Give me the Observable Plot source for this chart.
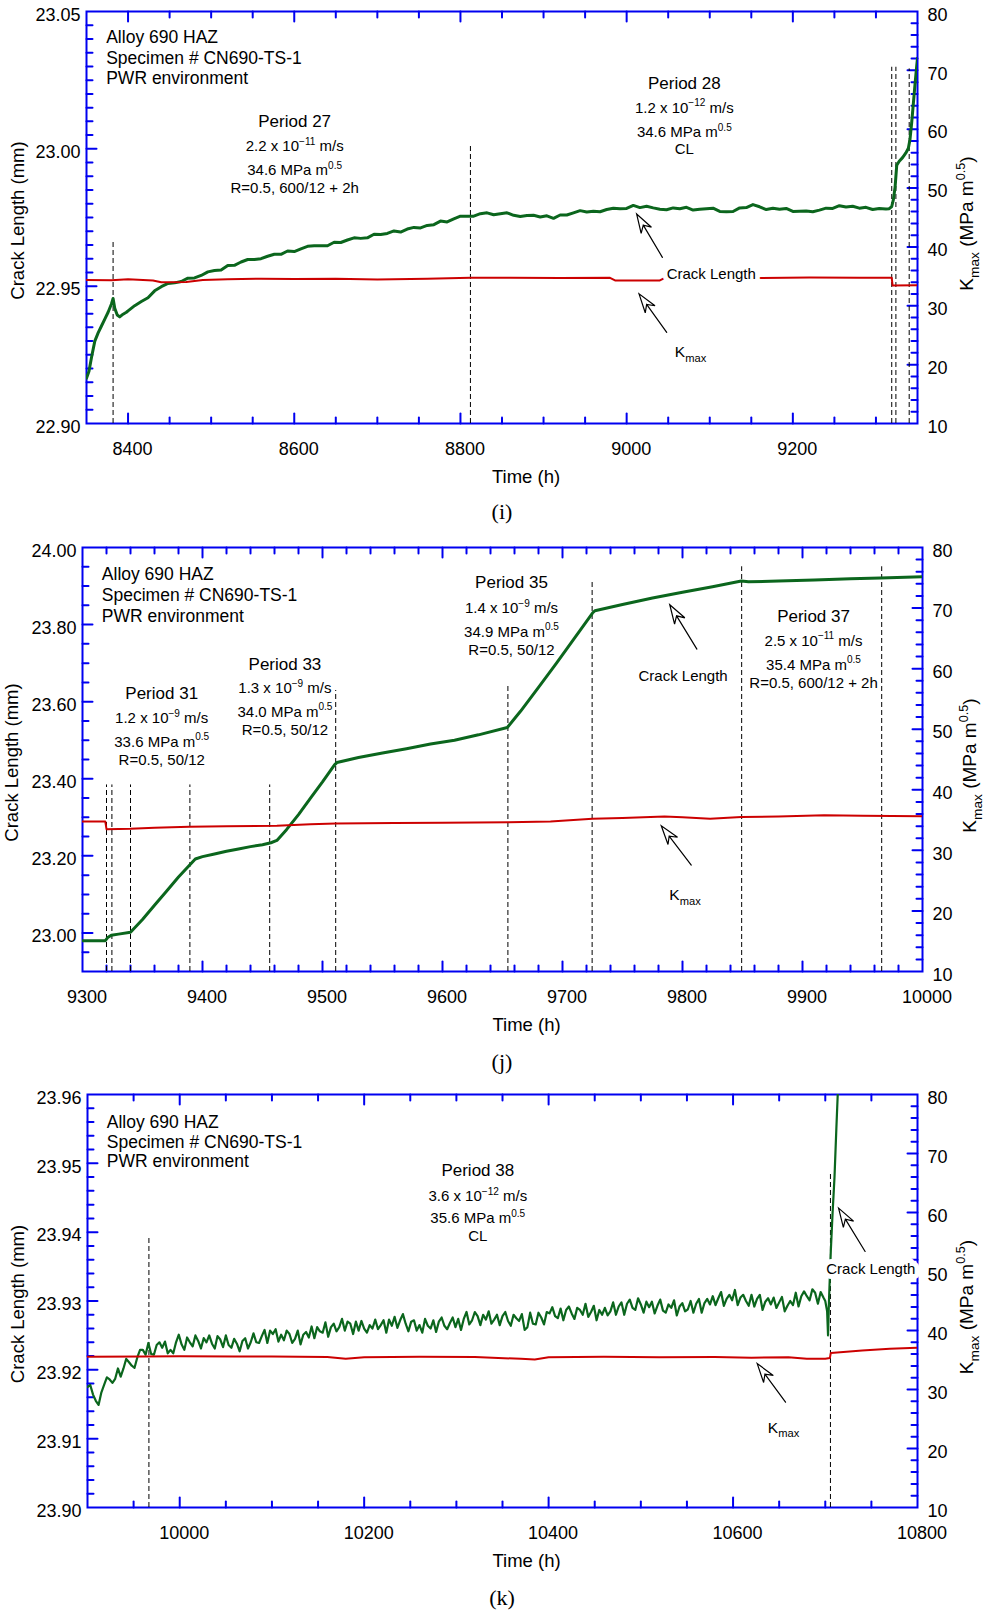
<!DOCTYPE html>
<html><head><meta charset="utf-8">
<script src="https://cdn.jsdelivr.net/npm/d3@7"></script>
<script src="https://cdn.jsdelivr.net/npm/@observablehq/plot@0.6"></script>
<style>
html, body { margin: 0; padding: 0; background: #fff; }
#page { position: relative; width: 984px; height: 1610px; overflow: hidden; background: #fff; }
.panel { position: absolute; left: 0; width: 984px; }
.panel svg { display: block; }
.cap { position: absolute; width: 100px; text-align: center; font-family: "Liberation Serif", "Times New Roman", serif; font-size: 22px; line-height: 22px; color: #000; }
</style></head>
<body>
<div id="page">
  <div class="panel" id="pi" style="top:0px"></div>
  <div class="cap" style="left:452px; top:501px">(i)</div>
  <div class="panel" id="pj" style="top:530px"></div>
  <div class="cap" style="left:452px; top:1051px">(j)</div>
  <div class="panel" id="pk" style="top:1080px"></div>
  <div class="cap" style="left:452px; top:1587px">(k)</div>
</div>
<script>
// ======================= DATA =======================
const kmaxTicks = [10, 20, 30, 40, 50, 60, 70, 80];
const headerLines = ["Alloy 690 HAZ", "Specimen # CN690-TS-1", "PWR environment"];

// ---------- Panel (i) ----------
const iTimeTicks = [8400, 8600, 8800, 9000, 9200];
const iCrackTicks = [22.90, 22.95, 23.00, 23.05];
const iTimeEarly = [8350, 8353, 8356, 8360, 8364, 8368, 8372, 8376, 8380, 8382, 8384, 8387, 8390, 8394, 8398];
const iCrackEarly = [22.9165, 22.9190, 22.9240, 22.9300, 22.9330, 22.9355, 22.9380, 22.9405, 22.9435, 22.9455, 22.9420, 22.9395, 22.9388, 22.9398, 22.9405];
const iTimeSteady = d3.range(8400, 9313, 8);
const iCrackSteady = [
  22.9410, 22.9429, 22.9444, 22.9458, 22.9483, 22.9498, 22.9510, 22.9512, 22.9517, 22.9529, 22.9530, 22.9539, 22.9552,
  22.9557, 22.9559, 22.9575, 22.9576, 22.9588, 22.9597, 22.9597, 22.9600, 22.9609, 22.9616, 22.9616, 22.9628, 22.9626,
  22.9636, 22.9645, 22.9647, 22.9647, 22.9647, 22.9660, 22.9659, 22.9668, 22.9676, 22.9674, 22.9676, 22.9689,
  22.9688, 22.9692, 22.9701, 22.9697, 22.9708, 22.9714, 22.9712, 22.9721, 22.9724, 22.9737, 22.9734, 22.9745, 22.9755,
  22.9755, 22.9755, 22.9764, 22.9767, 22.9760, 22.9764, 22.9767, 22.9758, 22.9754, 22.9757, 22.9758, 22.9752, 22.9756,
  22.9747, 22.9759, 22.9759, 22.9767, 22.9775, 22.9770, 22.9773, 22.9771, 22.9779, 22.9784, 22.9782, 22.9783,
  22.9794, 22.9786, 22.9791, 22.9785, 22.9780, 22.9778, 22.9785, 22.9782, 22.9787, 22.9777, 22.9780, 22.9782,
  22.9784, 22.9772, 22.9771, 22.9772, 22.9785, 22.9786, 22.9797, 22.9789, 22.9779, 22.9784, 22.9780, 22.9783, 22.9772,
  22.9773, 22.9774, 22.9771, 22.9777, 22.9784, 22.9783, 22.9793, 22.9788, 22.9791, 22.9784, 22.9787, 22.9779, 22.9783, 22.9781];
const iTimeRise = [9316, 9319, 9321, 9323, 9325, 9328, 9332, 9336, 9339, 9341, 9343, 9345, 9347, 9349, 9350];
const iCrackRise = [22.9782, 22.9790, 22.9815, 22.9860, 22.9940, 22.9955, 22.9968, 22.9985, 23.0002, 23.0035, 23.0095, 23.0165, 23.0235, 23.0300, 23.0330];
const iKTime = [8350, 8380, 8400, 8430, 8440, 8470, 8490, 8520, 8560, 8600, 8650, 8700, 8760, 8812, 8860, 8920, 8980, 8986, 9040, 9046, 9100, 9160, 9220, 9280, 9319, 9320, 9350];
const iKmax = [34.4, 34.35, 34.5, 34.3, 34.0, 34.05, 34.4, 34.5, 34.6, 34.55, 34.6, 34.45, 34.6, 34.75, 34.75, 34.7, 34.75, 34.3, 34.3, 34.75, 34.75, 34.7, 34.8, 34.75, 34.75, 33.45, 33.5];
const iDashTime = [8382, 8812, 9319, 9324, 9340];
const iDashTop = [22.9660, 23.0012, 23.0297, 23.0297, 23.0291];
const iPeriodLines = [
  ["Period 27", "2.2 x 10^{−11} m/s", "34.6 MPa m^{0.5}", "R=0.5, 600/12 + 2h"],
  ["Period 28", "1.2 x 10^{−12} m/s", "34.6 MPa m^{0.5}", "CL"]];
const iPeriodTime = [8600.5, 9069.4];
const iPeriodCrack = [[23.0099, 23.0009, 22.9921, 22.9857], [23.0237, 23.0149, 23.0060, 23.0000]];

// ---------- Panel (j) ----------
const jTimeTicks = [9300, 9400, 9500, 9600, 9700, 9800, 9900, 10000];
const jCrackTicks = [23.00, 23.20, 23.40, 23.60, 23.80, 24.00];
const jTime = [9300, 9319, 9321, 9324, 9330, 9340, 9350, 9360, 9370, 9380, 9394, 9400, 9410, 9420, 9430, 9440, 9450, 9457, 9462, 9470, 9480, 9490, 9500, 9510, 9512, 9530, 9550, 9570, 9590, 9610, 9630, 9654, 9665, 9680, 9695, 9710, 9725, 9727, 9750, 9775, 9800, 9825, 9849, 9855, 9880, 9910, 9940, 9965, 10000];
const jCrack = [22.980, 22.980, 22.988, 22.994, 22.997, 23.002, 23.035, 23.072, 23.108, 23.145, 23.192, 23.198, 23.205, 23.212, 23.218, 23.224, 23.229, 23.234, 23.240, 23.268, 23.307, 23.350, 23.392, 23.436, 23.442, 23.455, 23.467, 23.478, 23.490, 23.500, 23.514, 23.533, 23.575, 23.637, 23.700, 23.765, 23.830, 23.836, 23.852, 23.869, 23.884, 23.898, 23.913, 23.911, 23.913, 23.916, 23.919, 23.921, 23.924];
const jKTime = [9300, 9319, 9320, 9340, 9360, 9389, 9420, 9462, 9490, 9511, 9560, 9600, 9655, 9690, 9725, 9750, 9785, 9800, 9823, 9849, 9880, 9918, 9950, 10000];
const jKmax = [34.76, 34.76, 33.5, 33.55, 33.75, 33.9, 34.0, 34.05, 34.3, 34.45, 34.5, 34.55, 34.65, 34.75, 35.2, 35.35, 35.6, 35.45, 35.2, 35.5, 35.6, 35.8, 35.7, 35.65];
const jDashTime = [9320, 9324.5, 9340, 9389.5, 9456, 9511, 9654.5, 9724.7, 9849.3, 9966];
const jDashTop = [23.384, 23.384, 23.384, 23.384, 23.384, 23.629, 23.640, 23.914, 23.950, 23.950];
const jPeriodLines = [
  ["Period 31", "1.2 x 10^{−9} m/s", "33.6 MPa m^{0.5}", "R=0.5, 50/12"],
  ["Period 33", "1.3 x 10^{−9} m/s", "34.0 MPa m^{0.5}", "R=0.5, 50/12"],
  ["Period 35", "1.4 x 10^{−9} m/s", "34.9 MPa m^{0.5}", "R=0.5, 50/12"],
  ["Period 37", "2.5 x 10^{−11} m/s", "35.4 MPa m^{0.5}", "R=0.5, 600/12 + 2h"]];
const jPeriodTime = [9366, 9468.7, 9657.5, 9909.2];
const jPeriodCrack = [[23.6224, 23.5575, 23.4960, 23.4485], [23.6976, 23.6353, 23.5738, 23.5264], [23.9078, 23.8419, 23.7814, 23.7347], [23.8203, 23.7581, 23.6958, 23.6473]];

// ---------- Panel (k) ----------
const kTimeTicks = [10000, 10200, 10400, 10600, 10800];
const kCrackTicks = [23.90, 23.91, 23.92, 23.93, 23.94, 23.95, 23.96];
const kTimeSteady = d3.range(9900, 10699, 3);
const kCrackSteady = [
  23.9175, 23.9178, 23.9164, 23.9155, 23.9149, 23.9167, 23.9178, 23.9189, 23.9186, 23.9181, 23.9187, 23.9202, 23.9190, 23.9202, 23.9216, 23.9211, 23.9206, 23.9203, 23.9218, 23.9229,
  23.9229, 23.9222, 23.9239, 23.9223, 23.9222, 23.9236, 23.9240, 23.9232, 23.9241, 23.9224, 23.9229, 23.9224, 23.9240, 23.9251, 23.9237, 23.9229, 23.9247, 23.9240, 23.9234, 23.9250,
  23.9242, 23.9231, 23.9246, 23.9240, 23.9250, 23.9238, 23.9231, 23.9249, 23.9244, 23.9233, 23.9250, 23.9236, 23.9232, 23.9245, 23.9238, 23.9227, 23.9242, 23.9246, 23.9231, 23.9240,
  23.9253, 23.9240, 23.9239, 23.9249, 23.9258, 23.9239, 23.9257, 23.9252, 23.9259, 23.9241, 23.9251, 23.9243, 23.9257, 23.9252, 23.9239, 23.9245, 23.9257, 23.9237, 23.9251, 23.9255,
  23.9247, 23.9263, 23.9246, 23.9262, 23.9256, 23.9254, 23.9269, 23.9248, 23.9262, 23.9267, 23.9256, 23.9262, 23.9274, 23.9257, 23.9270, 23.9267, 23.9252, 23.9270, 23.9257, 23.9271,
  23.9260, 23.9254, 23.9265, 23.9260, 23.9273, 23.9259, 23.9265, 23.9272, 23.9254, 23.9273, 23.9264, 23.9277, 23.9261, 23.9272, 23.9281, 23.9267, 23.9256, 23.9270, 23.9272, 23.9257,
  23.9265, 23.9254, 23.9274, 23.9264, 23.9260, 23.9272, 23.9255, 23.9270, 23.9276, 23.9264, 23.9259, 23.9268, 23.9276, 23.9262, 23.9274, 23.9258, 23.9274, 23.9284, 23.9266, 23.9272,
  23.9284, 23.9278, 23.9265, 23.9280, 23.9273, 23.9285, 23.9267, 23.9273, 23.9280, 23.9265, 23.9278, 23.9284, 23.9271, 23.9264, 23.9280, 23.9275, 23.9271, 23.9281, 23.9258, 23.9262,
  23.9283, 23.9267, 23.9266, 23.9283, 23.9276, 23.9266, 23.9284, 23.9282, 23.9291, 23.9278, 23.9275, 23.9289, 23.9272, 23.9287, 23.9292, 23.9282, 23.9274, 23.9290, 23.9287, 23.9280,
  23.9296, 23.9277, 23.9284, 23.9293, 23.9272, 23.9287, 23.9280, 23.9290, 23.9279, 23.9285, 23.9298, 23.9280, 23.9292, 23.9298, 23.9280, 23.9296, 23.9302, 23.9290, 23.9287, 23.9304,
  23.9295, 23.9283, 23.9299, 23.9291, 23.9299, 23.9282, 23.9293, 23.9302, 23.9286, 23.9283, 23.9295, 23.9290, 23.9301, 23.9279, 23.9292, 23.9297, 23.9285, 23.9288, 23.9300, 23.9283,
  23.9296, 23.9303, 23.9283, 23.9297, 23.9303, 23.9295, 23.9307, 23.9294, 23.9304, 23.9313, 23.9293, 23.9303, 23.9309, 23.9301, 23.9316, 23.9294, 23.9305, 23.9309, 23.9300, 23.9293,
  23.9309, 23.9292, 23.9303, 23.9309, 23.9287, 23.9299, 23.9304, 23.9295, 23.9305, 23.9290, 23.9298, 23.9306, 23.9285, 23.9293, 23.9300, 23.9294, 23.9312, 23.9292, 23.9307, 23.9314,
  23.9307, 23.9301, 23.9317, 23.9312, 23.9296, 23.9313, 23.9305];
const kTimeRise = [10700, 10702, 10703, 10704, 10706, 10708, 10710, 10712, 10713.5];
const kCrackRise = [23.9300, 23.9285, 23.9250, 23.9300, 23.9373, 23.9430, 23.9480, 23.9550, 23.9600];
const kKTime = [9900, 9960, 10000, 10060, 10100, 10160, 10180, 10200, 10260, 10320, 10370, 10385, 10400, 10460, 10520, 10580, 10620, 10660, 10680, 10700, 10705, 10706, 10740, 10770, 10800];
const kKmax = [35.55, 35.6, 35.65, 35.6, 35.6, 35.5, 35.2, 35.45, 35.55, 35.5, 35.2, 35.1, 35.45, 35.55, 35.45, 35.5, 35.4, 35.45, 35.2, 35.2, 35.35, 36.2, 36.6, 36.9, 37.1];
const kDashTime = [9966.6, 10705.6];
const kDashTop = [23.9394, 23.9484];
const kPeriodLines = [["Period 38", "3.6 x 10^{−12} m/s", "35.6 MPa m^{0.5}", "CL"]];
const kPeriodTime = [10323.2];
const kPeriodCrack = [[23.9489, 23.9452, 23.9420, 23.9394]];

// ======================= DRAWING =======================
const GREEN = "#0b661d", RED = "#cc0000", BLUE = "#0000f0";
const SANS = "'Liberation Sans', Arial, Helvetica, sans-serif";
const SVGNS = "http://www.w3.org/2000/svg";

const tickShape = {draw(ctx, l) { ctx.moveTo(0, 0); ctx.lineTo(0, -l); }};
const arrowShape = {draw(ctx, l) {
  const h = 19, w = 6, n = 6;
  ctx.moveTo(0, 0); ctx.lineTo(0, -l + h - n);
  ctx.moveTo(0, -l); ctx.lineTo(-w, -l + h); ctx.lineTo(0, -l + h - n); ctx.lineTo(w, -l + h); ctx.closePath();
}};

function minors(lo, hi, step, majors) {
  const n = Math.round((hi - lo) / step), out = [];
  for (let i = 1; i < n; i++) {
    const v = lo + i * step;
    if (!majors.some(m => Math.abs(m - v) < step / 10)) out.push(v);
  }
  return out;
}

function richify(svg) {
  svg.querySelectorAll("text").forEach(el => {
    const s = el.textContent;
    if (!/[\^_]\{/.test(s)) return;
    const fs = parseFloat(getComputedStyle(el).fontSize) || 15;
    while (el.firstChild) el.removeChild(el.firstChild);
    let shift = 0;
    const add = (txt, kind) => {
      const ts = document.createElementNS(SVGNS, "tspan");
      const target = kind === "^" ? -0.42 * fs : kind === "_" ? 0.3 * fs : 0;
      if (target !== shift) ts.setAttribute("dy", (target - shift).toFixed(2));
      shift = target;
      if (kind) ts.setAttribute("font-size", ((kind === "^" ? 0.67 : 0.72) * fs).toFixed(2));
      ts.textContent = txt;
      el.appendChild(ts);
    };
    const re = /([\^_])\{([^}]*)\}/g;
    let last = 0, m;
    while ((m = re.exec(s))) {
      if (m.index > last) add(s.slice(last, m.index), null);
      add(m[2], m[1]);
      last = re.lastIndex;
    }
    if (last < s.length) add(s.slice(last), null);
  });
}

function drawPanel(c) {
  const W = 984;
  const [y0, y1] = c.yDomain;
  const k2c = k => y0 + (k - 10) / 70 * (y1 - y0);
  const c2k = v => 10 + (v - y0) / (y1 - y0) * 70;
  const xs = Plot.scale({x: {domain: c.xDomain, range: [c.ml, W - c.mr]}});
  const ys = Plot.scale({y: {domain: c.yDomain, range: [c.height - c.mb, c.mt]}});
  const inside = (arr, d) => arr.filter(v => v > d[0] + 1e-9 && v < d[1] - 1e-9);

  const xMaj = inside(c.xMajor, c.xDomain), xMin = minors(c.xDomain[0], c.xDomain[1], c.xStep, c.xMajor);
  const yMaj = inside(c.yMajor, c.yDomain), yMin = minors(y0, y1, c.yStep, c.yMajor);
  const kMaj = inside(kmaxTicks, [10, 80]), kMin = minors(10, 80, 2, kmaxTicks);

  const tk = (data, anchor, rot, len, acc) => Plot.vector(data, {
    [anchor === "top" || anchor === "bottom" ? "x" : "y"]: acc,
    frameAnchor: anchor, length: len, rotate: rot, anchor: "start",
    shape: tickShape, stroke: BLUE, strokeWidth: 2
  });
  const id = d => d;

  const arrowMark = a => {
    const px1 = xs.apply(a[0]), py1 = ys.apply(a[1]), px2 = xs.apply(a[2]), py2 = ys.apply(a[3]);
    const L = Math.hypot(px2 - px1, py2 - py1);
    const R = Math.atan2(px2 - px1, -(py2 - py1)) * 180 / Math.PI;
    return Plot.vector([a], {x: d => d[0], y: d => d[1], length: L, rotate: R, anchor: "start",
      shape: arrowShape, stroke: "black", fill: "white", strokeWidth: 1.2, strokeLinejoin: "miter"});
  };

  const greenIdx = d3.range(c.time.length), redIdx = d3.range(c.kTime.length), dashIdx = d3.range(c.dashTime.length);

  const marks = [
    Plot.frame({stroke: BLUE, strokeWidth: 2}),
    tk(xMaj, "bottom", 0, 10, id), tk(xMin, "bottom", 0, 6, id),
    tk(xMaj, "top", 180, 10, id), tk(xMin, "top", 180, 6, id),
    tk(yMaj, "left", 90, 10, id), tk(yMin, "left", 90, 6, id),
    tk(kMaj, "right", -90, 10, k2c), tk(kMin, "right", -90, 6, k2c),
    Plot.axisX(c.xMajor, {anchor: "bottom", tickSize: 0, tickPadding: 26, lineAnchor: "middle", dx: 4.5,
      tickFormat: d => String(d), label: null, fontSize: 18}),
    Plot.axisY(c.yMajor, {anchor: "left", tickSize: 0, tickPadding: 6, dy: 3.5,
      tickFormat: d3.format(".2f"), label: null, fontSize: 18}),
    Plot.axisY(kmaxTicks.map(k2c), {anchor: "right", tickSize: 0, tickPadding: 10, dy: 3.5,
      tickFormat: v => String(Math.round(c2k(v))), label: null, fontSize: 18}),
    Plot.ruleX(dashIdx, {x: i => c.dashTime[i], y1: () => y0, y2: i => c.dashTop[i],
      stroke: "black", strokeWidth: 1, strokeDasharray: "5,3"}),
    Plot.line(greenIdx, {x: i => c.time[i], y: i => c.crack[i], stroke: GREEN, strokeWidth: c.greenWidth,
      strokeLinejoin: "round", clip: true}),
    Plot.line(redIdx, {x: i => c.kTime[i], y: i => k2c(c.kmax[i]), stroke: RED, strokeWidth: 2, clip: true}),
    Plot.text(headerLines, {x: () => c.header[0], y: (d, i) => c.header[1][i], text: id, textAnchor: "start", fontSize: 17.5}),
    ...c.periodLines.flatMap((lines, p) => [
      Plot.text([lines[0]], {x: () => c.periodTime[p], y: () => c.periodCrack[p][0], text: id, fontSize: 17}),
      Plot.text(lines.slice(1), {x: () => c.periodTime[p], y: (d, i) => c.periodCrack[p][i + 1], text: id, fontSize: 15})
    ]),
    c.crackHalo ? Plot.text(["Crack Length"], {x: () => c.crackLabel[0], y: () => c.crackLabel[1], text: id, fontSize: 15,
      fill: "white", stroke: "white", strokeWidth: 10}) : null,
    Plot.text(["Crack Length"], {x: () => c.crackLabel[0], y: () => c.crackLabel[1], text: id, fontSize: 15}),
    arrowMark(c.crackArrow),
    arrowMark(c.kArrow),
    Plot.text(["K_{max}"], {x: () => c.kLabel[0], y: () => c.kLabel[1], text: id, textAnchor: "start", fontSize: 15.5}),
    Plot.text(["Crack Length (mm)"], {frameAnchor: "left", dx: c.ltx, dy: 3, rotate: -90, text: id,
      textAnchor: "middle", lineAnchor: "middle", fontSize: 18.5}),
    Plot.text(["K_{max} (MPa m^{0.5})"], {frameAnchor: "right", dx: c.rtx, dy: 6, rotate: -90, text: id,
      textAnchor: "middle", lineAnchor: "middle", fontSize: 19}),
    Plot.text(["Time (h)"], {frameAnchor: "bottom", dx: 24, dy: 54, text: id,
      textAnchor: "middle", lineAnchor: "middle", fontSize: 18.5})
  ].filter(Boolean);

  const svg = Plot.plot({
    width: W, height: c.height,
    marginTop: c.mt, marginBottom: c.mb, marginLeft: c.ml, marginRight: c.mr,
    x: {domain: c.xDomain},
    y: {domain: c.yDomain},
    style: {fontFamily: SANS, fontSize: "18px", color: "black", background: "white", overflow: "visible"},
    marks
  });
  document.querySelector(c.el).appendChild(svg);
  richify(svg);
}

drawPanel({
  el: "#pi", height: 495, mt: 11, mb: 72, ml: 86, mr: 67,
  xDomain: [8350, 9350], yDomain: [22.90, 23.05],
  xMajor: iTimeTicks, xStep: 50, yMajor: iCrackTicks, yStep: 0.005,
  time: [...iTimeEarly, ...iTimeSteady, ...iTimeRise], crack: [...iCrackEarly, ...iCrackSteady, ...iCrackRise], greenWidth: 3,
  kTime: iKTime, kmax: iKmax, dashTime: iDashTime, dashTop: iDashTop,
  header: [8373.7, [23.0406, 23.0331, 23.0258]],
  periodLines: iPeriodLines, periodTime: iPeriodTime, periodCrack: iPeriodCrack,
  crackLabel: [9101.8, 22.9542], crackHalo: true,
  crackArrow: [9043, 22.9605, 9012, 22.9763], kArrow: [9048.2, 22.9332, 9014.9, 22.9472], kLabel: [9058, 22.9260],
  ltx: -68.5, rtx: 49.5
});

drawPanel({
  el: "#pj", height: 510, mt: 17, mb: 69, ml: 82, mr: 62,
  xDomain: [9300, 10000], yDomain: [22.90, 24.00],
  xMajor: jTimeTicks, xStep: 20, yMajor: jCrackTicks, yStep: 0.05,
  time: jTime, crack: jCrack, greenWidth: 3,
  kTime: jKTime, kmax: jKmax, dashTime: jDashTime, dashTop: jDashTop,
  header: [9316.1, [23.9293, 23.8748, 23.8203]],
  periodLines: jPeriodLines, periodTime: jPeriodTime, periodCrack: jPeriodCrack,
  crackLabel: [9800.5, 23.6673], crackHalo: false,
  crackArrow: [9812, 23.7365, 9789.4, 23.8515], kArrow: [9807.3, 23.176, 9782.3, 23.278], kLabel: [9789, 23.098],
  ltx: -70, rtx: 47.6
});

drawPanel({
  el: "#pk", height: 500, mt: 14, mb: 73, ml: 87, mr: 67,
  xDomain: [9900, 10800], yDomain: [23.90, 23.96],
  xMajor: kTimeTicks, xStep: 50, yMajor: kCrackTicks, yStep: 0.002,
  time: [...kTimeSteady, ...kTimeRise], crack: [...kCrackSteady, ...kCrackRise], greenWidth: 2.2,
  kTime: kKTime, kmax: kKmax, dashTime: kDashTime, dashTop: kDashTop,
  header: [9920.9, [23.9560, 23.9531, 23.9503]],
  periodLines: kPeriodLines, periodTime: kPeriodTime, periodCrack: kPeriodCrack,
  crackLabel: [10749.4, 23.9346], crackHalo: true,
  crackArrow: [10743.2, 23.9372, 10714.4, 23.9435], kArrow: [10656.9, 23.9153, 10626.2, 23.9209], kLabel: [10637.7, 23.9116],
  ltx: -69.5, rtx: 49.5
});
</script>
</body></html>
